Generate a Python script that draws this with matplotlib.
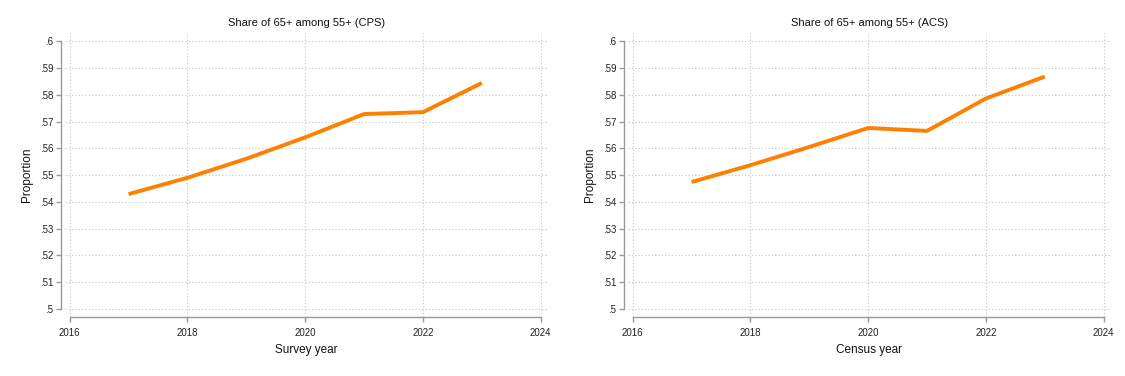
#!/usr/bin/env python3

import matplotlib
matplotlib.use("Agg")
import matplotlib.pyplot as plt
from matplotlib import font_manager

# data
years = [2017, 2018, 2019, 2020, 2021, 2022, 2023]
cps_share = [0.5429, 0.5490, 0.5561, 0.5641, 0.5728, 0.5735, 0.5844]
acs_share = [0.5474, 0.5537, 0.5605, 0.5676, 0.5665, 0.5786, 0.5868]

xticks = [2016, 2018, 2020, 2022, 2024]
yticks = [0.5, 0.51, 0.52, 0.53, 0.54, 0.55, 0.56, 0.57, 0.58, 0.59, 0.6]
ytick_labels = [".5", ".51", ".52", ".53", ".54", ".55", ".56", ".57", ".58", ".59", ".6"]

panels = [
    ("Share of 65+ among 55+ (CPS)", "Survey year", cps_share),
    ("Share of 65+ among 55+ (ACS)", "Census year", acs_share),
]

names = set(f.name for f in font_manager.fontManager.ttflist)
if "Liberation Sans Narrow" in names:
    plt.rcParams["font.family"] = ["Liberation Sans Narrow", "DejaVu Sans"]
else:
    plt.rcParams["font.family"] = ["Liberation Sans", "DejaVu Sans"]

LINE = "#ff8000"
AXCOL = "#9a9a9a"
GRID = "#c4c4c4"

fig = plt.figure(figsize=(11.25, 3.76), dpi=100)
lefts = [0.0578, 0.5582]

for left, (title, xlabel, vals) in zip(lefts, panels):
    ax = fig.add_axes([left, 0.157, 0.4293, 0.756])
    ax.plot(years, vals, color=LINE, lw=2.8, solid_capstyle="butt")

    ax.set_xlim(2016 - 4.7 / 59, 2024 + 7.3 / 59)
    ax.set_ylim(0.5 - 8 / 2680, 0.6 + 8.5 / 2680)
    ax.set_xticks(xticks)
    ax.set_yticks(yticks)
    ax.set_yticklabels(ytick_labels)

    ax.grid(True, color=GRID, linestyle=(0, (1, 2)), linewidth=0.8)
    ax.set_axisbelow(True)

    for s in ["top", "right"]:
        ax.spines[s].set_visible(False)
    ax.spines["left"].set_position(("outward", 3))
    ax.spines["left"].set_bounds(0.5, 0.6)
    ax.spines["bottom"].set_bounds(2016, 2024)
    for s in ["left", "bottom"]:
        ax.spines[s].set_color(AXCOL)
        ax.spines[s].set_linewidth(1.0)

    ax.tick_params(axis="both", colors=AXCOL, length=3.5, width=1.0,
                   labelsize=7, labelcolor="#222222", pad=2)
    ax.tick_params(axis="x", pad=4.5)

    ax.set_title(title, fontsize=8, color="#111111", pad=5)
    ax.set_xlabel(xlabel, fontsize=8.5, color="#111111", labelpad=4)
    ax.set_ylabel("Proportion", fontsize=8.5, color="#111111", labelpad=5)

fig.savefig("out.png", dpi=100, facecolor="white")
